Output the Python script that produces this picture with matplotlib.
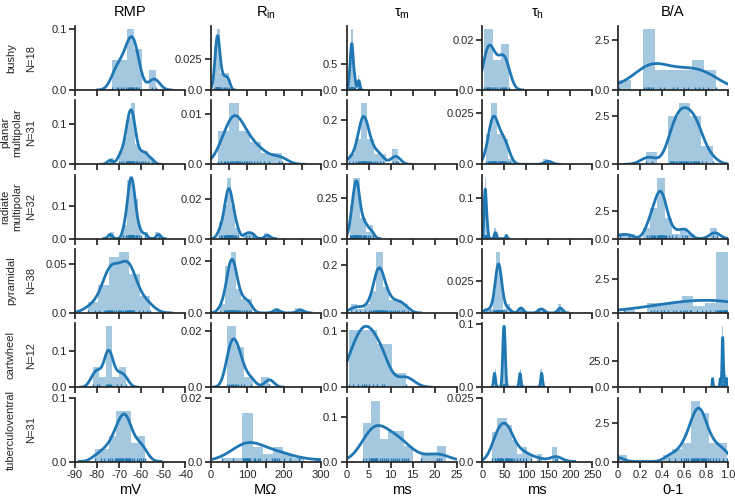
import numpy as np
import matplotlib
matplotlib.use("Agg")
import matplotlib.pyplot as plt
from matplotlib.collections import LineCollection

plt.rcParams['font.family'] = ['Liberation Sans', 'DejaVu Sans']
plt.rcParams['mathtext.fontset'] = 'custom'
plt.rcParams['mathtext.rm'] = 'Liberation Sans'
plt.rcParams['axes.unicode_minus'] = False

# cell types, N and measures
cell_names = ["bushy", "planar\nmultipolar", "radiate\nmultipolar", "pyramidal", "cartwheel", "tuberculoventral"]
cell_n = [18, 31, 32, 38, 12, 31]
measures = ["RMP", "R$_{\\mathrm{in}}$", "τ$_{\\mathrm{m}}$", "τ$_{\\mathrm{h}}$", "B/A"]
units = ["mV", "MΩ", "ms", "ms", "0-1"]

# per-cell measurements (estimated)
bushy_rmp = [-73, -71, -70.5, -69, -68, -67, -66, -65.5, -65, -64.5, -64, -63.5, -63, -62.5, -62, -61, -55, -53]
bushy_rin = [10, 13, 15, 16, 17, 18, 18, 19, 20, 21, 22, 24, 26, 30, 35, 40, 45, 50]
bushy_taum = [0.6, 0.8, 0.9, 1.0, 1.05, 1.1, 1.15, 1.2, 1.25, 1.3, 1.35, 1.4, 1.5, 1.6, 1.8, 2.0, 2.7, 2.9]
bushy_tauh = [5, 8, 10, 12, 14, 16, 18, 22, 25, 28, 33, 40, 45, 47, 50, 52, 55, 60]
bushy_ba = [0.01, 0.24, 0.25, 0.27, 0.28, 0.30, 0.32, 0.38, 0.42, 0.50, 0.54, 0.60, 0.64, 0.70, 0.74, 0.77,
            0.82, 0.89]

planar_rmp = [-74, -70, -69, -68, -67, -67, -66.5, -66, -66, -65.5, -65.5, -65, -65, -65, -64.5, -64.5,
              -64, -64, -64, -63.5, -63.5, -63, -63, -62.5, -62, -61, -60, -59, -58, -57, -55]
planar_rin = [20, 28, 35, 40, 45, 48, 52, 55, 58, 60, 62, 65, 68, 70, 72, 75, 78, 80, 85, 90, 95, 100,
              105, 110, 118, 125, 135, 145, 160, 185, 195]
planar_taum = [0.5, 1.5, 2.2, 2.6, 2.9, 3.1, 3.3, 3.4, 3.5, 3.6, 3.7, 3.8, 3.9, 4.0, 4.1, 4.2, 4.3, 4.4,
               4.6, 4.8, 5.0, 5.3, 5.6, 6.0, 6.5, 7.0, 7.6, 8.2, 10.5, 11.2, 11.8]
planar_tauh = [8, 14, 16, 18, 19, 20, 21, 22, 24, 25, 26, 27, 28, 28, 29, 30, 31, 32, 35, 38, 40, 42, 44,
               46, 48, 50, 52, 55, 58, 62, 150]
planar_ba = [0.25, 0.31, 0.47, 0.48, 0.49, 0.50, 0.51, 0.53, 0.54, 0.55, 0.56, 0.57, 0.58, 0.59, 0.60,
             0.61, 0.62, 0.63, 0.64, 0.65, 0.66, 0.68, 0.69, 0.70, 0.71, 0.72, 0.73, 0.74, 0.76, 0.80, 0.86]

radiate_rmp = [-74, -68, -67, -67, -66, -66, -66, -65.5, -65.5, -65, -65, -65, -65, -64.5, -64.5, -64.5,
               -64, -64, -64, -64, -63.5, -63.5, -63, -63, -63, -62.5, -62, -62, -61, -60, -58, -52]
radiate_rin = [22, 28, 32, 35, 38, 40, 42, 43, 44, 45, 46, 47, 48, 49, 50, 51, 52, 53, 54, 55, 56, 58,
               60, 62, 64, 66, 70, 75, 95, 105, 115, 155]
radiate_taum = [0.8, 1.0, 1.2, 1.4, 1.5, 1.6, 1.7, 1.8, 1.9, 2.0, 2.1, 2.15, 2.2, 2.25, 2.3, 2.35, 2.4,
                2.5, 2.6, 2.7, 2.8, 2.9, 3.0, 3.2, 3.4, 3.7, 3.9, 4.2, 4.5, 4.9, 5.4, 6.0]
radiate_tauh = [3, 4, 4.5, 5, 5, 5.5, 5.5, 6, 6, 6, 6.5, 6.5, 7, 7, 7, 7.5, 7.5, 8, 8, 8.5, 9, 9, 9.5,
                10, 10.5, 11, 12, 13, 28, 30, 32, 55]
radiate_ba = [0.02, 0.10, 0.26, 0.28, 0.30, 0.31, 0.32, 0.33, 0.34, 0.35, 0.36, 0.37, 0.37, 0.38, 0.38,
              0.39, 0.39, 0.40, 0.40, 0.41, 0.41, 0.42, 0.43, 0.44, 0.46, 0.49, 0.53, 0.58, 0.61, 0.63,
              0.86, 0.90]

pyr_rmp = [-84, -81, -79, -77, -76, -75.5, -75, -74.5, -74.5, -74, -74, -73.5, -73, -73, -72.5, -71.5,
           -70.5, -70, -69.5, -69, -68, -67.5, -67, -66.5, -66, -66, -65.5, -65.5, -65, -65, -64.5, -64,
           -63.5, -63, -61, -59, -57.5, -56]
pyr_rin = [25, 35, 40, 42, 44, 46, 48, 50, 51, 52, 53, 54, 55, 56, 57, 58, 59, 60, 61, 62, 63, 64, 65,
           66, 68, 70, 72, 75, 78, 80, 85, 90, 95, 100, 105, 110, 180, 245]
pyr_taum = [1.0, 2.2, 3.0, 4.2, 5.0, 5.6, 6.0, 6.3, 6.5, 6.7, 6.8, 6.9, 7.0, 7.1, 7.2, 7.3, 7.4, 7.5,
            7.6, 7.7, 7.8, 7.9, 8.0, 8.2, 8.4, 8.6, 8.8, 9.0, 9.3, 9.6, 10.0, 10.5, 11.0, 11.5, 12.0,
            12.5, 13.0, 14.0]
pyr_tauh = [8, 18, 24, 27, 29, 30, 31, 32, 33, 33, 34, 35, 35, 36, 36, 37, 37, 38, 38, 39, 39, 40, 40,
            41, 42, 43, 44, 45, 47, 50, 55, 62, 86, 90, 130, 138, 175, 180]
pyr_ba = [0.05, 0.30, 0.33, 0.35, 0.39, 0.42, 0.45, 0.50, 0.53, 0.56, 0.59, 0.61, 0.63, 0.65, 0.66, 0.72,
          0.76, 0.80, 0.84, 0.88, 0.90, 0.91, 0.92, 0.93, 0.93, 0.94, 0.94, 0.95, 0.95, 0.96, 0.96, 0.97,
          0.97, 0.98, 0.98, 0.99, 0.99, 1.0]

cw_rmp = [-82, -80, -79, -76, -75.5, -75, -74.5, -74, -73.5, -71, -69, -67]
cw_rin = [45, 50, 55, 58, 62, 66, 70, 75, 82, 90, 110, 160]
cw_taum = [0.5, 1.5, 2.5, 3.5, 4.0, 4.5, 5.0, 6.0, 7.0, 8.0, 8.5, 13.5]
cw_tauh = [28, 47, 48, 49, 50, 51, 52, 86, 135]
cw_ba = [0.86, 0.93, 0.945, 0.948, 0.95, 0.951, 0.952, 0.953, 0.955, 0.958, 0.965, 0.99]

tv_rmp = [-81, -78, -77, -75, -74, -73, -72, -71.5, -71, -70.5, -70, -69.5, -69, -68.5, -68, -68, -67.5,
          -67, -67, -66.5, -66, -66, -65.5, -65, -64, -63, -62, -61, -60, -59, -58]
tv_rin = [31, 60, 88, 88, 90, 92, 93, 95, 96, 98, 99, 100, 102, 104, 106, 118, 122, 128, 135, 150, 168,
          172, 176, 180, 186, 200, 215, 240, 290, 360, 420]
tv_taum = [3.8, 4.5, 5.0, 5.5, 5.6, 5.8, 6.0, 6.2, 6.4, 6.6, 6.8, 7.0, 7.5, 8.0, 8.5, 9.0, 9.5, 10.0,
           10.5, 11.0, 11.5, 12.0, 12.5, 13.0, 13.5, 14.0, 17.0, 20.5, 21.0, 21.5, 30.0]
tv_tauh = [22, 28, 30, 33, 35, 36, 38, 40, 42, 43, 45, 48, 52, 54, 55, 56, 57, 58, 60, 62, 65, 68, 72,
           78, 85, 92, 100, 110, 130, 165, 170]
tv_ba = [0.0, 0.46, 0.52, 0.57, 0.60, 0.62, 0.64, 0.66, 0.67, 0.68, 0.69, 0.70, 0.71, 0.72, 0.72, 0.73,
         0.74, 0.75, 0.75, 0.76, 0.77, 0.78, 0.79, 0.80, 0.82, 0.84, 0.86, 0.89, 0.92, 0.95, 0.99]

table = [
    [bushy_rmp, bushy_rin, bushy_taum, bushy_tauh, bushy_ba],
    [planar_rmp, planar_rin, planar_taum, planar_tauh, planar_ba],
    [radiate_rmp, radiate_rin, radiate_taum, radiate_tauh, radiate_ba],
    [pyr_rmp, pyr_rin, pyr_taum, pyr_tauh, pyr_ba],
    [cw_rmp, cw_rin, cw_taum, cw_tauh, cw_ba],
    [tv_rmp, tv_rin, tv_taum, tv_tauh, tv_ba],
]

# upper y tick of each panel
ytop = [
    [0.1, 0.025, 0.5, 0.02, 2.5],
    [0.1, 0.01, 0.2, 0.025, 2.5],
    [0.1, 0.02, 0.25, 0.1, 2.5],
    [0.05, 0.02, 0.2, 0.025, 2.5],
    [0.1, 0.02, 0.1, 0.1, 25.0],
    [0.1, 0.02, 0.1, 0.025, 2.5],
]

x_ticks = [
    [-90, -80, -70, -60, -50, -40],
    [0, 50, 100, 150, 200, 250, 300],
    [0, 5, 10, 15, 20, 25],
    [0, 50, 100, 150, 200, 250],
    [0, 0.2, 0.4, 0.6, 0.8, 1.0],
]
x_ticklabels = [
    ["-90", "-80", "-70", "-60", "-50", "-40"],
    ["0", "", "100", "", "200", "", "300"],
    ["0", "5", "10", "15", "20", "25"],
    ["0", "50", "100", "150", "200", "250"],
    ["0", "0.2", "0.4", "0.6", "0.8", "1.0"],
]

# a few panels use a wider kernel / other bin counts
bw_fixed = {(3, 4): 0.35, (5, 1): 40}
bins_fixed = {(0, 4): 8, (3, 4): 9, (5, 1): 14, (5, 2): 14, (5, 3): 13}

blue = "#1f77b4"
dark = "#262626"


def iqr(a):
    q1, q3 = np.percentile(a, [25, 75])
    return q3 - q1


def fd_bins(a):
    h = 2 * iqr(a) / (len(a) ** (1 / 3))
    if h == 0:
        return int(np.sqrt(a.size))
    return int(np.ceil((a.max() - a.min()) / h))


def scott_bw(a):
    s = np.std(a, ddof=1)
    r = iqr(a) / 1.349
    sigma = min(s, r) if r > 0 else s
    return 1.059 * sigma * len(a) ** (-0.2)


def kde(a, bw):
    grid = np.linspace(a.min() - 3 * bw, a.max() + 3 * bw, 100)
    z = (grid[:, None] - a[None, :]) / bw
    dens = np.exp(-0.5 * z ** 2).sum(axis=1) / (len(a) * bw * np.sqrt(2 * np.pi))
    return grid, dens


W, H = 735, 499
fig = plt.figure(figsize=(W / 100, H / 100), dpi=100)

for i in range(6):
    for j in range(5):
        left = 75 + 135.75 * j
        top = 26 + 74.3 * i
        ax = fig.add_axes([left / W, 1 - (top + 64) / H, 110 / W, 64 / H])
        a = np.asarray(table[i][j], dtype=float)

        nb = bins_fixed.get((i, j), min(fd_bins(a), 50))
        ax.hist(a, bins=nb, density=True, color=blue, alpha=0.4)

        bw = bw_fixed.get((i, j), scott_bw(a))
        gx, gy = kde(a, bw)
        ax.plot(gx, gy, color=blue, lw=2)

        segs = [[(v, 0), (v, 0.05)] for v in a]
        ax.add_collection(LineCollection(segs, colors=blue, linewidths=1,
                                         transform=ax.get_xaxis_transform()), autolim=False)

        ax.set_xlim(x_ticks[j][0], x_ticks[j][-1])
        ax.set_ylim(bottom=0)
        ax.set_yticks([0, ytop[i][j]])
        ax.set_yticklabels(["0.0", str(ytop[i][j])])
        ax.set_xticks(x_ticks[j])
        if i == 5:
            ax.set_xticklabels(x_ticklabels[j])
            ax.set_xlabel(units[j], fontsize=10.5, labelpad=2)
        else:
            ax.set_xticklabels([])
        if i == 0:
            ax.set_title(measures[j], fontsize=10.5, pad=7)

        for s in ["top", "right"]:
            ax.spines[s].set_visible(False)
        for s in ["left", "bottom"]:
            ax.spines[s].set_linewidth(1.25)
            ax.spines[s].set_color(dark)
        ax.tick_params(direction="out", length=4, width=1.25, color=dark,
                       labelsize=8, labelcolor=dark, pad=2)

    yc = 1 - (26 + 74.3 * i + 32) / H
    fig.text(11 / W, yc, cell_names[i], rotation=90, ha="center", va="center",
             multialignment="center", fontsize=8, color=dark)
    fig.text(31.5 / W, yc, "N=%d" % cell_n[i], rotation=90, ha="center", va="center",
             fontsize=8, color=dark)

fig.savefig("out.png", dpi=100)
